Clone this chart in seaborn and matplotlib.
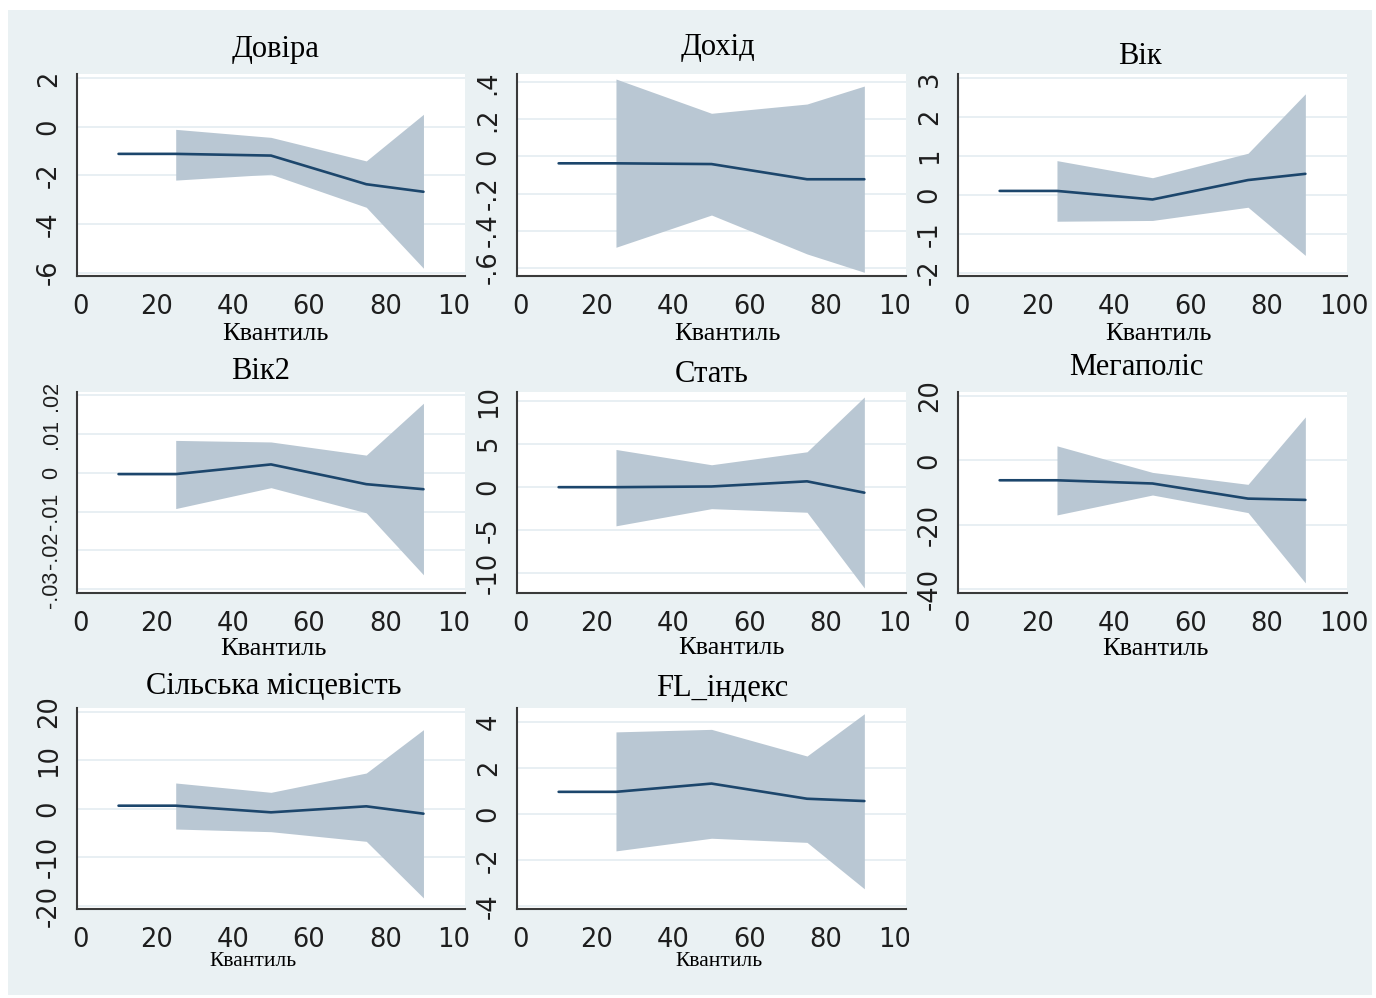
import numpy as np
import pandas as pd
import seaborn as sns
import matplotlib.pyplot as plt
from matplotlib.patches import Rectangle
from matplotlib.transforms import Bbox, TransformedBbox

# quantiles where the coefficients were estimated
quantiles = [10, 25, 50, 75, 90]
band_quantiles = [25, 50, 75, 90]

titles = ["Довіра", "Дохід", "Вік", "Вік2", "Стать", "Мегаполіс",
          "Сільська місцевість", "FL_індекс"]

dovira_coef = [-1.11, -1.11, -1.18, -2.36, -2.67]
dovira_hi = [-0.10, -0.43, -1.40, 0.52]
dovira_lo = [-2.19, -1.95, -3.31, -5.82]

dokhid_coef = [-0.037, -0.037, -0.041, -0.123, -0.123]
dokhid_hi = [0.418, 0.233, 0.283, 0.380]
dokhid_lo = [-0.490, -0.316, -0.526, -0.625]

vik_coef = [0.10, 0.10, -0.12, 0.38, 0.54]
vik_hi = [0.88, 0.44, 1.07, 2.60]
vik_lo = [-0.68, -0.66, -0.32, -1.56]

vik2_coef = [-0.0003, -0.0003, 0.0022, -0.0029, -0.0042]
vik2_hi = [0.0084, 0.0080, 0.0046, 0.0180]
vik2_lo = [-0.0092, -0.0038, -0.0103, -0.0263]

stat_coef = [0.0, 0.0, 0.08, 0.68, -0.64]
stat_hi = [4.39, 2.61, 4.12, 10.5]
stat_lo = [-4.5, -2.5, -2.92, -11.74]

mega_coef = [-6.2, -6.2, -7.2, -11.9, -12.3]
mega_hi = [4.5, -3.75, -7.47, 13.5]
mega_lo = [-16.97, -10.78, -16.25, -38.1]

silska_coef = [0.65, 0.65, -0.72, 0.52, -1.0]
silska_hi = [5.34, 3.41, 7.4, 16.35]
silska_lo = [-4.17, -4.72, -6.71, -18.4]

fl_coef = [0.96, 0.96, 1.32, 0.66, 0.56]
fl_hi = [3.57, 3.68, 2.52, 4.36]
fl_lo = [-1.61, -1.06, -1.24, -3.26]

coefs = [dovira_coef, dokhid_coef, vik_coef, vik2_coef, stat_coef, mega_coef, silska_coef, fl_coef]
his = [dovira_hi, dokhid_hi, vik_hi, vik2_hi, stat_hi, mega_hi, silska_hi, fl_hi]
los = [dovira_lo, dokhid_lo, vik_lo, vik2_lo, stat_lo, mega_lo, silska_lo, fl_lo]

x_ticks = [0, 20, 40, 60, 80, 100]
y_ticks = [
    [-6, -4, -2, 0, 2],
    [-0.6, -0.4, -0.2, 0, 0.2, 0.4],
    [-2, -1, 0, 1, 2, 3],
    [-0.03, -0.02, -0.01, 0, 0.01, 0.02],
    [-10, -5, 0, 5, 10],
    [-40, -20, 0, 20],
    [-20, -10, 0, 10, 20],
    [-4, -2, 0, 2, 4],
]
y_ticklabels = [
    ["-6", "-4", "-2", "0", "2"],
    ["-.6", "-.4", "-.2", "0", ".2", ".4"],
    ["-2", "-1", "0", "1", "2", "3"],
    ["-.03", "-.02", "-.01", "0", ".01", ".02"],
    ["-10", "-5", "0", "5", "10"],
    ["-40", "-20", "0", "20"],
    ["-20", "-10", "0", "10", "20"],
    ["-4", "-2", "0", "2", "4"],
]
x_label = "Квантиль"

# ---- layout (pixel geometry of the collage) ----
W, H = 1376, 998
panel_boxes = [  # left, right, top, bottom in pixels
    (77, 465, 74, 276), (517, 906, 74, 276), (958, 1347, 74, 276),
    (77, 465, 392, 593), (517, 906, 392, 593), (958, 1347, 392, 593),
    (77, 465, 708, 909), (517, 906, 708, 909),
]
y_limits = [(-6.14, 2.18), (-0.645, 0.445), (-2.09, 3.11), (-0.031, 0.0209),
            (-12.32, 11.08), (-41.24, 21.24), (-20.69, 20.83), (-4.14, 4.61)]
title_pos = [(276, 50), (718, 48), (1140, 56), (261, 372), (712, 375),
             (1136, 368), (274, 686), (722, 688)]
xlabel_pos = [(275, 334), (727, 334), (1158, 334), (273, 649), (731, 648),
              (1155, 649), (253, 962), (719, 962)]
xlabel_size = [19, 19, 19, 19, 19, 19, 15.5, 15.5]
# the Вік2 panel has long labels, a narrower face keeps them apart
ytick_font = [("DejaVu Sans", 18.5)] * 3 + [("Liberation Sans", 15.5)] + [("DejaVu Sans", 18.5)] * 4
clip_right = [469, 909, None, 469, 909, None, 469, 909]

bg_color = "#EAF1F3"
band_color = "#B9C7D3"
line_color = "#1C466C"
grid_color = "#E6EEF2"
axis_color = "#3A3A3A"

sns.set_style("white")
plt.rcParams["font.family"] = ["DejaVu Sans"]

fig = plt.figure(figsize=(W / 100, H / 100), dpi=100, facecolor="white")
fig.add_artist(Rectangle((8 / W, 1 - 995 / H), (1372 - 8) / W, (995 - 10) / H,
                         transform=fig.transFigure, facecolor=bg_color,
                         edgecolor="none", zorder=-10))

for i in range(len(titles)):
    l, r, t, b = panel_boxes[i]
    ax = fig.add_axes([l / W, 1 - b / H, (r - l) / W, (b - t) / H])
    ax.set_facecolor("white")

    ax.fill_between(band_quantiles, los[i], his[i], color=band_color,
                    linewidth=0, zorder=2)
    df = pd.DataFrame({"q": quantiles, "coef": coefs[i]})
    sns.lineplot(data=df, x="q", y="coef", ax=ax, color=line_color,
                 linewidth=1.9, errorbar=None, zorder=3)

    ax.set_xlim(-0.9, 100.9)
    ax.set_ylim(*y_limits[i])
    ax.set_xticks(x_ticks)
    ax.set_xticklabels([str(v) for v in x_ticks])
    ax.set_yticks(y_ticks[i])
    fam, size = ytick_font[i]
    ax.set_yticklabels(y_ticklabels[i], rotation=90, va="center",
                       family=fam, fontsize=size)
    ax.set_xlabel("")
    ax.set_ylabel("")

    for yv in y_ticks[i]:
        ax.axhline(yv, color=grid_color, linewidth=1.3, zorder=1)

    for side in ["top", "right"]:
        ax.spines[side].set_visible(False)
    for side in ["left", "bottom"]:
        ax.spines[side].set_color(axis_color)
        ax.spines[side].set_linewidth(1.5)
    ax.tick_params(axis="both", direction="out", length=7, width=1.3,
                   color=axis_color, labelcolor="#1E1E1E", pad=4)
    ax.tick_params(axis="x", pad=6, labelsize=18.5)

    if clip_right[i] is not None:
        box = TransformedBbox(Bbox.from_extents(0, 0, clip_right[i] / W, 1),
                              fig.transFigure)
        for lab in ax.get_xticklabels():
            lab.set_clip_on(True)
            lab.set_clip_box(box)

    tx, ty = title_pos[i]
    fig.text(tx / W, 1 - ty / H, titles[i], ha="center", va="center",
             fontsize=22, family="Liberation Serif", color="black")
    lx, ly = xlabel_pos[i]
    fig.text(lx / W, 1 - ly / H, x_label, ha="center", va="center",
             fontsize=xlabel_size[i], family="Liberation Serif", color="black")

fig.savefig("out.png", dpi=100, facecolor="white")
